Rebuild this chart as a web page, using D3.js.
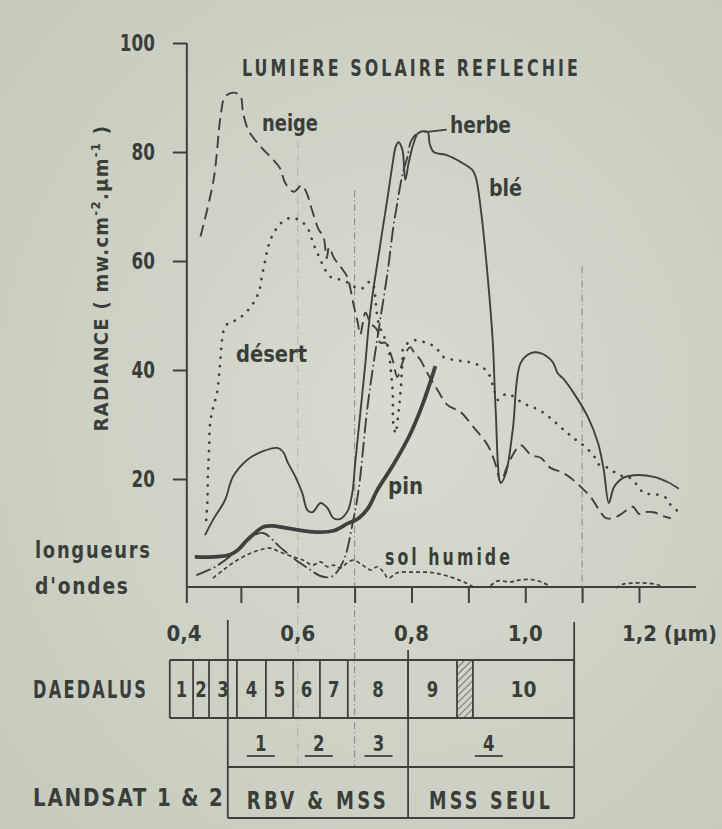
<!DOCTYPE html>
<html><head><meta charset="utf-8">
<script src="https://cdnjs.cloudflare.com/ajax/libs/d3/7.8.5/d3.min.js"></script>
<style>
html,body{margin:0;padding:0;background:#d2d6ca;}
svg{display:block;}
text{font-family:'DejaVu Sans Condensed','DejaVu Sans',sans-serif;font-stretch:condensed;font-weight:bold;fill:#3a3e3a;}
</style></head><body>
<svg id="c" width="722" height="829"></svg>
<script>
// ---------- DATA (wavelength µm, radiance mW.cm-2.µm-1) ----------
const neige = [[0.429,64.5],[0.452,74.9],[0.465,87.1],[0.472,90.1],[0.487,90.9],[0.499,90.3],[0.504,87.1],[0.513,84.0],[0.525,82.2],[0.540,80.4],[0.555,78.8],[0.569,77.0],[0.578,74.3],[0.593,72.7],[0.607,73.9],[0.616,72.4],[0.625,69.4],[0.637,65.7],[0.645,64.5],[0.651,60.5],[0.655,62.5],[0.664,60.5],[0.675,59.0],[0.687,57.1],[0.693,54.7],[0.698,52.0],[0.705,49.0],[0.710,46.5],[0.719,50.5],[0.728,48.6],[0.740,47.3],[0.745,45.0],[0.754,45.0],[0.767,41.8],[0.775,38.7],[0.784,41.3],[0.793,43.7],[0.798,44.2],[0.804,43.3],[0.816,41.8],[0.825,40.0],[0.833,38.5],[0.846,36.3],[0.863,33.6],[0.886,32.3],[0.909,29.5],[0.934,26.2],[0.948,22.6],[0.957,19.3],[0.966,21.7],[0.978,24.4],[0.992,26.2],[1.010,24.4],[1.027,23.9],[1.045,22.0],[1.063,21.3],[1.080,20.2],[1.098,18.5],[1.115,16.7],[1.130,14.3],[1.142,12.8],[1.159,13.0],[1.172,13.8],[1.189,14.9],[1.200,13.6],[1.209,13.9],[1.226,13.9],[1.242,13.2],[1.256,12.8]];
const desert = [[0.439,12.5],[0.441,15.6],[0.442,20.4],[0.444,25.3],[0.446,30.3],[0.451,33.0],[0.458,35.8],[0.463,40.6],[0.467,45.5],[0.472,47.9],[0.481,48.8],[0.493,49.2],[0.511,50.8],[0.523,52.5],[0.532,54.5],[0.537,57.1],[0.543,60.2],[0.548,62.6],[0.557,65.0],[0.571,67.0],[0.587,67.9],[0.606,67.3],[0.619,65.7],[0.627,63.3],[0.636,61.1],[0.645,59.1],[0.656,57.2],[0.671,56.7],[0.689,56.0],[0.701,55.2],[0.714,55.0],[0.724,56.1],[0.731,56.0],[0.742,48.6],[0.759,44.2],[0.763,40.6],[0.767,35.8],[0.768,30.3],[0.772,28.4],[0.777,32.1],[0.781,36.3],[0.784,41.3],[0.786,44.2],[0.795,45.0],[0.807,45.5],[0.825,45.0],[0.842,44.2],[0.856,42.4],[0.878,41.8],[0.899,41.5],[0.918,40.9],[0.934,39.6],[0.944,36.9],[0.952,34.5],[0.966,35.6],[0.978,35.2],[0.996,33.9],[1.013,33.2],[1.033,32.1],[1.054,30.3],[1.070,28.8],[1.085,27.5],[1.103,26.1],[1.121,24.2],[1.130,22.6],[1.147,22.0],[1.165,20.7],[1.181,20.4],[1.195,19.1],[1.209,17.4],[1.230,17.2],[1.248,16.5],[1.256,15.2],[1.272,13.8]];
const herbe = [[0.423,2.4],[0.455,3.9],[0.490,6.6],[0.516,9.2],[0.539,10.1],[0.569,7.5],[0.592,5.5],[0.617,3.7],[0.640,2.2],[0.657,2.0],[0.668,2.8],[0.683,5.7],[0.696,11.6],[0.707,18.0],[0.722,32.7],[0.735,42.4],[0.745,49.2],[0.758,58.0],[0.768,66.2],[0.775,70.6],[0.781,74.3],[0.786,76.7],[0.793,79.1],[0.798,81.7],[0.804,82.8],[0.812,83.5],[0.825,83.7]];
const herbeLeader = [[0.828,83.7],[0.862,84.1]];
const ble = [[0.437,9.7],[0.451,12.5],[0.472,16.1],[0.486,20.4],[0.511,23.5],[0.539,25.1],[0.564,25.7],[0.574,25.0],[0.583,22.9],[0.596,20.4],[0.608,17.4],[0.617,14.3],[0.626,13.9],[0.640,15.6],[0.652,14.7],[0.663,12.8],[0.675,12.7],[0.688,14.2],[0.696,17.5],[0.701,22.9],[0.710,32.1],[0.719,41.3],[0.724,47.3],[0.731,53.4],[0.740,59.6],[0.749,65.7],[0.758,71.7],[0.767,78.0],[0.772,80.9],[0.777,81.8],[0.784,80.4],[0.789,74.9],[0.795,78.0],[0.804,81.7],[0.812,83.5],[0.828,83.7],[0.832,81.5],[0.839,80.0],[0.863,79.4],[0.886,78.2],[0.907,76.7],[0.913,75.4],[0.922,69.4],[0.934,57.1],[0.943,45.0],[0.948,32.7],[0.957,19.3],[0.966,21.1],[0.978,29.0],[0.992,41.3],[1.010,43.1],[1.027,43.1],[1.048,41.5],[1.057,39.4],[1.066,38.5],[1.085,35.8],[1.110,31.4],[1.128,26.6],[1.138,21.7],[1.147,15.6],[1.156,18.5],[1.172,20.2],[1.191,20.7],[1.226,20.4],[1.251,19.4],[1.270,18.2]];
const pin = [[0.419,5.7],[0.451,5.7],[0.481,6.1],[0.495,7.0],[0.511,8.8],[0.525,10.1],[0.539,11.2],[0.555,11.4],[0.581,11.0],[0.627,10.3],[0.663,10.5],[0.689,11.9],[0.707,12.8],[0.724,14.7],[0.740,18.0],[0.768,22.6],[0.798,28.3],[0.821,34.1],[0.842,40.7]];
const solHumide = [[0.451,1.8],[0.469,3.3],[0.486,4.6],[0.511,6.1],[0.534,7.0],[0.552,7.3],[0.569,6.6],[0.592,5.7],[0.610,5.1],[0.626,4.2],[0.640,4.8],[0.652,3.9],[0.663,4.2],[0.675,3.7],[0.687,4.6],[0.698,5.1],[0.714,4.2],[0.728,3.3],[0.740,3.9],[0.751,2.9],[0.759,1.8],[0.775,2.8],[0.804,2.9],[0.839,2.8],[0.869,2.0],[0.892,1.1],[0.909,0.2],[0.92,null],[0.939,0.4],[0.952,1.3],[0.974,1.1],[0.992,1.5],[1.015,1.5],[1.033,0.9],[1.045,0.2],[1.1,null],[1.159,0.0],[1.172,0.7],[1.189,0.9],[1.212,0.9],[1.233,0.6],[1.242,0.2]];

const yTicks = [20,40,60,80,100];
const xTicks = [0.5,0.6,0.7,0.8,0.9,1.0,1.1,1.2];
const xLabelValues = [0.4,0.6,0.8,1.0,1.2];
const xLabelTexts = ["0,4","0,6","0,8","1,0","1,2 (µm)"];
const guideWavelengths = [0.6,0.7,1.1];
const guideTops = [82,73,59];

const daedalusEdges = [0.375,0.416,0.444,0.493,0.544,0.592,0.639,0.688,0.794,0.880,0.908,1.086];
const daedalusLabels = ["1","2","3","4","5","6","7","8","9","","10"];
const hatchedCell = 9;
const landsatEdges = [0.477,0.794,1.086];
const landsatBands = ["1","2","3","4"];
const landsatBandPos = [0.535,0.637,0.742,0.936];
const landsatSensors = ["RBV & MSS","MSS SEUL"];

// ---------- DRAW ----------
const svg = d3.select("#c");
const x = d3.scaleLinear().domain([0.4,1.2]).range([184,639]);
const y = d3.scaleLinear().domain([0,100]).range([588,43]);
const ink = "#3e423e";

const defs = svg.append("defs");
const bg = defs.append("radialGradient").attr("id","bg").attr("cx","55%").attr("cy","50%").attr("r","75%");
bg.append("stop").attr("offset","0%").attr("stop-color","#d8dcd0");
bg.append("stop").attr("offset","100%").attr("stop-color","#c6cabd");
const pat = defs.append("pattern").attr("id","hatch").attr("patternUnits","userSpaceOnUse")
  .attr("width",5).attr("height",5).attr("patternTransform","rotate(45)");
pat.append("line").attr("x1",0).attr("y1",0).attr("x2",0).attr("y2",5).attr("stroke",ink).attr("stroke-width",1.3);

svg.append("rect").attr("width",722).attr("height",829).attr("fill","url(#bg)");

// guide lines
guideWavelengths.forEach((g,i)=>{
  svg.append("line").attr("x1",x(g)).attr("x2",x(g)).attr("y1",y(guideTops[i]))
    .attr("y2", g>1 ? 600 : 767)
    .attr("stroke","#6b6f69").attr("stroke-width",1).attr("stroke-dasharray","7 3 1 3")
    .attr("opacity", g===0.6 ? 0.35 : 0.75);
});

const line = d3.line().defined(d=>d[1]!==null).x(d=>x(d[0])).y(d=>y(d[1])).curve(d3.curveCatmullRom.alpha(0.5));
const series = [
  {d:neige, w:1.9, dash:"12 6"},
  {d:desert, w:2.7, dash:"0.1 8.5", cap:"round"},
  {d:herbe, w:1.9, dash:"14 5 0.1 5", cap:"round"},
  {d:ble, w:1.9, dash:null},
  {d:pin, w:3.8, dash:null},
  {d:solHumide, w:1.7, dash:"4 3"}
];
series.forEach(s=>{
  svg.append("path").datum(s.d).attr("d",line).attr("fill","none").attr("stroke",ink)
    .attr("stroke-width",s.w).attr("stroke-dasharray",s.dash).attr("stroke-linecap",s.cap||"butt")
    .attr("stroke-linejoin","round");
});
svg.append("path").datum(herbeLeader).attr("d",d3.line().x(d=>x(d[0])).y(d=>y(d[1])))
  .attr("stroke",ink).attr("stroke-width",1.8).attr("fill","none");

// text helper: condensed look by horizontal scaling to a measured width
function place(t, px, py, len, opts){
  opts = opts || {};
  const s = svg.append("text").attr("x",0).attr("y",0)
    .attr("text-anchor", opts.anchor || "start")
    .style("font-size",(opts.fs||23)+"px").style("letter-spacing",(opts.ls||0)+"px").text(t);
  const nat = s.node().getComputedTextLength() - (opts.ls||0);
  s.attr("transform",`translate(${px},${py}) scale(${(len/nat).toFixed(4)},1)`);
  return s;
}

// axes
const yAxisX = x(0.405);
const yAx = svg.append("g").attr("transform",`translate(${yAxisX},0)`).attr("color",ink)
  .call(d3.axisLeft(y).tickValues(yTicks).tickSize(14).tickSizeOuter(0).tickFormat(""));
yAx.select(".domain").remove();
yAx.selectAll(".tick line").attr("stroke-width",2);
yTicks.forEach(v=>place(String(v), yAxisX-32, y(v)+8, String(v).length*11.7, {anchor:"end"}));
svg.append("line").attr("x1",yAxisX).attr("x2",yAxisX).attr("y1",y(100)).attr("y2",y(0)+15)
  .attr("stroke",ink).attr("stroke-width",2);

const xAx = svg.append("g").attr("transform",`translate(0,${y(0)-1})`).attr("color",ink)
  .call(d3.axisBottom(x).tickValues(xTicks).tickSize(16).tickSizeOuter(0).tickFormat(""));
xAx.select(".domain").remove();
xAx.selectAll(".tick line").attr("stroke-width",2);
svg.append("line").attr("x1",yAxisX).attr("x2",x(1.3)).attr("y1",y(0)-1).attr("y2",y(0)-1)
  .attr("stroke",ink).attr("stroke-width",2);

xLabelValues.forEach((v,i)=>{
  const last = i===xLabelValues.length-1;
  if (last) place(xLabelTexts[i], x(v)-17, 641, 95, {fs:22});
  else place(xLabelTexts[i], x(v), 641, 35, {fs:22, anchor:"middle"});
});

// y title
const yt = svg.append("text").attr("transform","translate(108,278) rotate(-90)")
  .attr("text-anchor","middle").style("font-size","20px").style("letter-spacing","1.3px");
yt.append("tspan").text("RADIANCE ( mw.cm");
yt.append("tspan").attr("dy",-8).style("font-size","13px").text("-2");
yt.append("tspan").attr("dy",8).text(".µm");
yt.append("tspan").attr("dy",-8).style("font-size","13px").text("-1");
yt.append("tspan").attr("dy",8).text(" )");

// titles & labels
place("LUMIERE SOLAIRE REFLECHIE", 242, 76, 336, {fs:23, ls:4});
place("neige",262,131,56);
place("herbe",450,133,61);
place("blé",489,196,33);
place("désert",236,362,71);
place("pin",388,494,35);
place("sol humide",385,565,125,{ls:4});
place("longueurs",35,558,115,{ls:2});
place("d'ondes",35,594,93,{ls:2});

// band diagram
const bl = (x1,y1,x2,y2)=>svg.append("line").attr("x1",x1).attr("y1",y1).attr("x2",x2).attr("y2",y2)
  .attr("stroke",ink).attr("stroke-width",1.8);
const r1t=660, r1b=718, r2b=767, r3b=818;
svg.append("rect").attr("x",x(daedalusEdges[hatchedCell])).attr("y",r1t)
  .attr("width",x(daedalusEdges[hatchedCell+1])-x(daedalusEdges[hatchedCell])).attr("height",r1b-r1t)
  .attr("fill","url(#hatch)");
bl(x(daedalusEdges[0]),r1t,x(daedalusEdges[daedalusEdges.length-1]),r1t);
bl(x(daedalusEdges[0]),r1b,x(daedalusEdges[daedalusEdges.length-1]),r1b);
daedalusEdges.forEach(e=>bl(x(e),r1t,x(e),r1b));
daedalusLabels.forEach((t,i)=>{
  if(!t) return;
  place(t, (x(daedalusEdges[i])+x(daedalusEdges[i+1]))/2, 697, t.length===2 ? 26 : 11.5, {fs:22, anchor:"middle"});
});
bl(x(landsatEdges[0]),620,x(landsatEdges[0]),r3b);
bl(x(landsatEdges[1]),650,x(landsatEdges[1]),r3b);
bl(x(landsatEdges[2]),622,x(landsatEdges[2]),r3b);
bl(x(landsatEdges[0]),r2b,x(landsatEdges[2]),r2b);
bl(x(landsatEdges[0]),r3b,x(landsatEdges[2]),r3b);
landsatBands.forEach((t,i)=>{
  const cx = x(landsatBandPos[i]);
  place(t, cx, 751, 11.5, {fs:22, anchor:"middle"});
  bl(cx-14,756,cx+14,756);
});
landsatSensors.forEach((t,i)=>{
  const cx = (x(landsatEdges[i])+x(landsatEdges[i+1]))/2;
  place(t, cx, 809, i===0?139:121, {fs:24, ls:4, anchor:"middle"});
});
place("DAEDALUS",33,698,113,{fs:24, ls:3});
place("LANDSAT 1  &  2",33,806,190,{fs:24, ls:2});
</script>
</body></html>
